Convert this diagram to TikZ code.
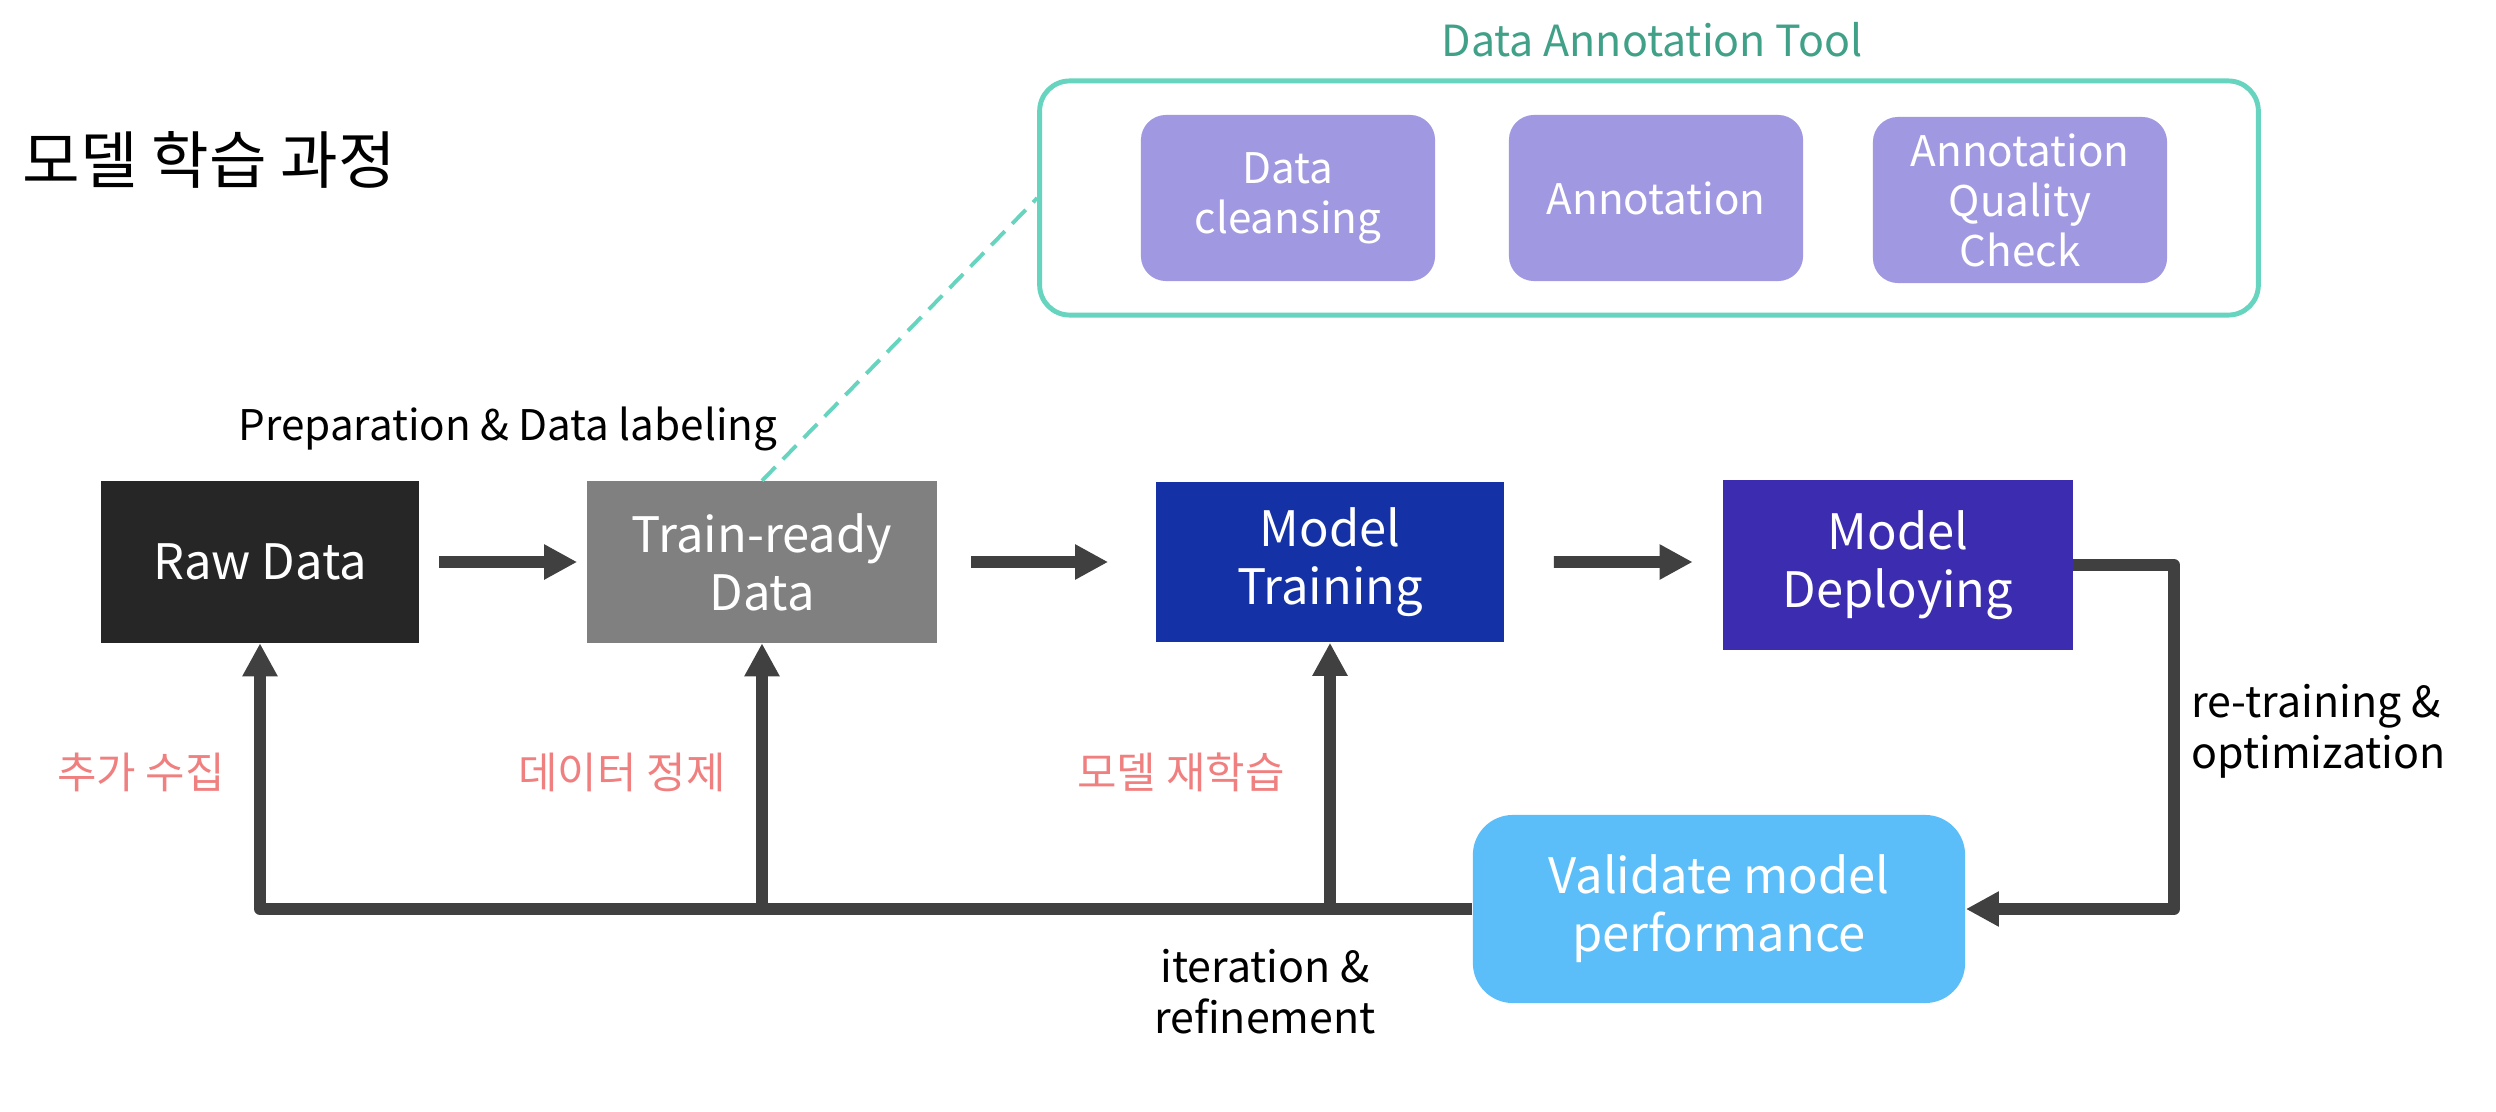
\documentclass[tikz,border=0pt]{standalone}
\usepackage{fontspec}
\setmainfont{Noto Sans CJK KR}
\usetikzlibrary{arrows.meta}
\definecolor{rawblack}{RGB}{38,38,38}
\definecolor{readygray}{RGB}{128,128,128}
\definecolor{trainblue}{RGB}{20,50,165}
\definecolor{deployviolet}{RGB}{60,44,176}
\definecolor{validsky}{RGB}{91,190,248}
\definecolor{toolpurple}{RGB}{160,152,224}
\definecolor{toolteal}{RGB}{102,212,190}
\definecolor{tooltext}{RGB}{64,160,136}
\definecolor{redolabel}{RGB}{240,128,128}
\definecolor{flowgray}{RGB}{64,64,64}

\begin{document}
\begin{tikzpicture}[x=.01cm,y=-.01cm,
    stage/.style={text=white,align=center,inner sep=0pt,font=\fontsize{13.9}{16.5}\selectfont},
    tooltask/.style={fill=toolpurple,rounded corners=.25cm,text=white,align=center,inner sep=0pt,
      minimum width=2.94cm,minimum height=1.66cm,font=\fontsize{12}{14.2}\selectfont},
    flow/.style={draw=flowgray,line width=3.4pt,line join=round,-{Triangle[length=9.4pt,width=9.4pt]}},
    note/.style={align=center,font=\fontsize{12.2}{14.5}\selectfont}]
  \useasboundingbox (0,0) rectangle (2496,1112);
  \node[anchor=west,font=\fontsize{17.8}{20}\selectfont] (title) at (10,160) {모델 학습 과정};

  % annotation tool
  \node[draw=toolteal,line width=1.4pt,rounded corners=.3cm,minimum width=12.18cm,minimum height=2.34cm] (tool) at (1649,198) {};
  \node[note,text=tooltext] (toolname) at (1652,40) {Data Annotation Tool};
  \node[tooltask] (cleansing) at (1288,198) {Data\\cleansing};
  \node[tooltask] (annotation) at (1656,198) {Annotation};
  \node[tooltask] (quality) at (2020,200) {Annotation\\Quality\\Check};

  % main stages
  \node[stage,fill=rawblack,minimum width=3.17cm,minimum height=1.61cm] (raw) at (260,562) {Raw Data};
  \node[stage,fill=readygray,minimum width=3.5cm,minimum height=1.61cm] (ready) at (762,562) {Train-ready\\Data};
  \node[stage,fill=trainblue,minimum width=3.48cm,minimum height=1.6cm] (training) at (1330,562) {Model\\Training};
  \node[stage,fill=deployviolet,minimum width=3.49cm,minimum height=1.69cm] (deploying) at (1898,565) {Model\\Deploying};
  \node[stage,fill=validsky,rounded corners=.4cm,minimum width=4.92cm,minimum height=1.88cm] (validate) at (1719,909) {Validate model\\performance};
  \node[note,anchor=base,font=\fontsize{12}{14.5}\selectfont] (prep) at (508,440) {Preparation \& Data labeling};
  \draw[toolteal,line width=1.1pt,dash pattern=on 5.5pt off 3pt] (ready.north) -- (tool.west);

  \draw[flow] ([xshift=.2cm]raw.east) -- ([xshift=-.09cm]ready.west);
  \draw[flow] ([xshift=.33cm]ready.east) -- ([xshift=-.47cm]training.west);
  \draw[flow] ([xshift=.49cm]training.east) -- ([xshift=-.3cm,yshift=.03cm]deploying.west);

  % feedback loop
  \coordinate (loopturn) at (2174,565);
  \draw[flow] (deploying.east) -- (loopturn) |- (validate.east);
  \draw[flow] (validate.west) -| (raw.south);
  \draw[flow] (ready.south |- validate.west) -- (ready.south);
  \draw[flow] (training.south |- validate.west) -- (training.south);

  \node[note,text=redolabel] (collect) at (141,772) {추가 수집};
  \node[note,text=redolabel] (cleanse) at (622,772) {데이터 정제};
  \node[note,text=redolabel] (retrain) at (1181,772) {모델 재학습};
  \node[note,anchor=west,align=left] (retune) at (2179,731) {re-training \&\\optimization};
  \node[note] (iterate) at (1265,992) {iteration \&\\refinement};
\end{tikzpicture}
\end{document}
